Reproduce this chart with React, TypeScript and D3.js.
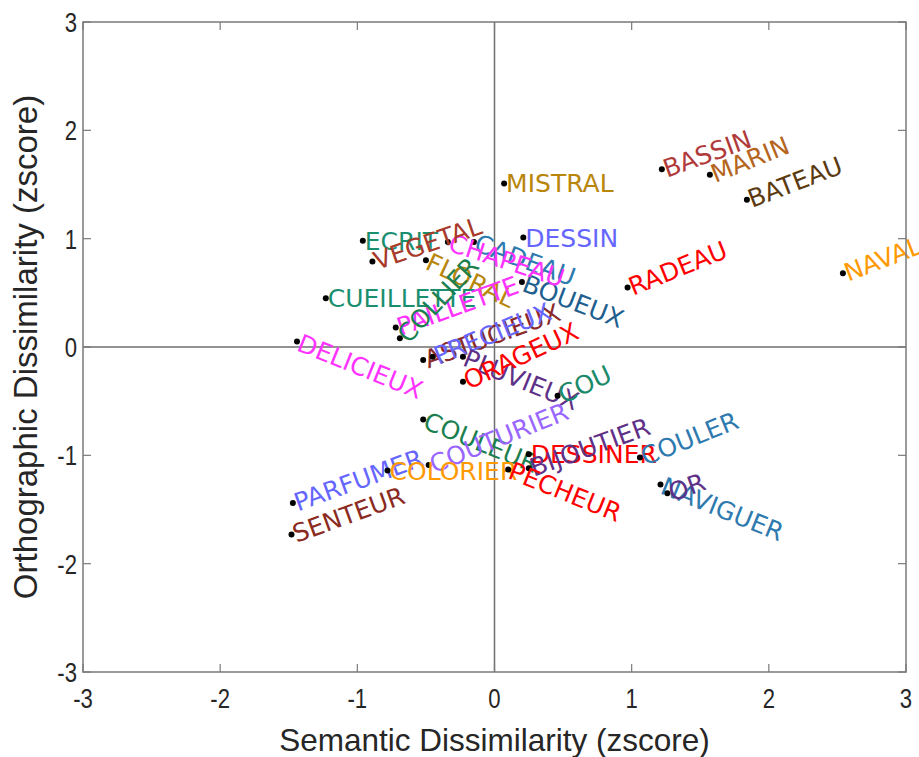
import React from "react";
import * as d3 from "d3";

// word labels, their coordinates (zscore), colours and text rotation
const words = [
  "NAVAL", "BATEAU", "MARIN", "BASSIN", "MISTRAL", "DESSIN", "RADEAU", "BOUEUX",
  "CADEAU", "CHAPEAU", "ECRIT", "VEGETAL", "FLORAL", "CUEILLETTE", "PAILLETTE", "COLLIER",
  "DELICIEUX", "ASTUCIEUX", "PRECIEUX", "PLUVIEUX", "ORAGEUX", "COU", "COULEUR", "COUTURIER",
  "PARFUMER", "SENTEUR", "COLORIER", "DESSINER", "BIJOUTIER", "PECHEUR", "COULER", "NAVIGUER", "OR",
];
const semantic = [
  2.54, 1.84, 1.57, 1.22, 0.07, 0.21, 0.97, 0.2,
  -0.15, -0.34, -0.96, -0.89, -0.5, -1.23, -0.72, -0.69,
  -1.44, -0.52, -0.45, -0.23, -0.23, 0.46, -0.52, -0.48,
  -1.47, -1.48, -0.78, 0.25, 0.25, 0.1, 1.06, 1.21, 1.26,
];
const orthographic = [
  0.68, 1.36, 1.59, 1.64, 1.51, 1.01, 0.55, 0.6,
  0.97, 0.97, 0.98, 0.79, 0.8, 0.45, 0.18, 0.08,
  0.05, -0.12, -0.09, -0.09, -0.32, -0.45, -0.67, -1.09,
  -1.44, -1.73, -1.14, -0.99, -1.12, -1.13, -1.02, -1.27, -1.35,
];
const colors = [
  "#ff9900", "#5c3a10", "#b5651d", "#b03a3a", "#b8860b", "#6666ff", "#ff0000", "#1f5f8f",
  "#2e7aaf", "#ff33ff", "#1a8f70", "#a83a2a", "#b8860b", "#1a8f70", "#ff33ff", "#1b8050",
  "#ff33ff", "#8b2a2a", "#6666ff", "#5e3087", "#ff0000", "#1a8a6a", "#1b7f4f", "#9966ff",
  "#6666ff", "#8b2a1e", "#ff9900", "#ff0000", "#5e3087", "#ff0000", "#2e7aaf", "#2e7aaf", "#5e3087",
];
const angles = [
  -21, -21, -22, -20, 0, 0, -22, 21,
  20, 18, 0, -19, 25, 0, -20, -47,
  22, -20, -22, 22, -25, -25, 22, -22,
  -20, -20, 0, 0, -20, 22, -22, 22, -20,
];
const ticks = [-3, -2, -1, 0, 1, 2, 3];

const W = 919;
const H = 757;
const left = 83, right = 906, top = 22, bottom = 672;

export default function App() {
  const x = d3.scaleLinear().domain([-3, 3]).range([left, right]);
  const y = d3.scaleLinear().domain([-3, 3]).range([bottom, top]);
  const axisColor = "#262626";
  const tickFont = "'Liberation Sans', Arial, sans-serif";

  return (
    <div style={{ position: "fixed", left: 0, top: 0 }}>
      <svg width={W} height={H} style={{ display: "block", background: "#fff" }}>
        {/* zero lines */}
        <line x1={x(0)} x2={x(0)} y1={top} y2={bottom} stroke="#6e6e6e" strokeWidth={1.5} />
        <line x1={left} x2={right} y1={y(0)} y2={y(0)} stroke="#6e6e6e" strokeWidth={1.5} />

        {/* points and labels */}
        {words.map((w, i) => {
          const px = x(semantic[i]);
          const py = y(orthographic[i]);
          return (
            <g key={w}>
              <circle cx={px} cy={py} r={3} fill="#000" />
              <text
                transform={`translate(${px + 2},${py}) rotate(${angles[i]})`}
                dy="0.36em"
                fill={colors[i]}
                fontFamily="'DejaVu Sans', Verdana, sans-serif"
                fontSize={25}
              >
                {w}
              </text>
            </g>
          );
        })}

        {/* box */}
        <rect x={left} y={top} width={right - left} height={bottom - top} fill="none" stroke="#7a7a7a" strokeWidth={1.5} />

        {/* ticks */}
        {ticks.map((t) => (
          <g key={"t" + t}>
            <line x1={x(t)} x2={x(t)} y1={bottom} y2={bottom - 8} stroke="#7a7a7a" strokeWidth={1.2} />
            <line x1={x(t)} x2={x(t)} y1={top} y2={top + 8} stroke="#7a7a7a" strokeWidth={1.2} />
            <line x1={left} x2={left + 8} y1={y(t)} y2={y(t)} stroke="#7a7a7a" strokeWidth={1.2} />
            <line x1={right} x2={right - 8} y1={y(t)} y2={y(t)} stroke="#7a7a7a" strokeWidth={1.2} />
            <text
              transform={`translate(${x(t)},${bottom + 36}) scale(0.82,1)`}
              textAnchor="middle"
              fontFamily={tickFont}
              fontSize={27}
              fill={axisColor}
            >
              {t}
            </text>
            <text
              transform={`translate(${left - 6},${y(t) + 10}) scale(0.82,1)`}
              textAnchor="end"
              fontFamily={tickFont}
              fontSize={27}
              fill={axisColor}
            >
              {t}
            </text>
          </g>
        ))}

        {/* axis titles */}
        <text
          x={(left + right) / 2}
          y={751}
          textAnchor="middle"
          fontFamily={tickFont}
          fontSize={31.5}
          fill={axisColor}
        >
          Semantic Dissimilarity (zscore)
        </text>
        <text
          transform={`translate(37,${(top + bottom) / 2}) rotate(-90)`}
          textAnchor="middle"
          fontFamily={tickFont}
          fontSize={33}
          fill={axisColor}
        >
          Orthographic Dissimilarity (zscore)
        </text>
      </svg>
    </div>
  );
}
